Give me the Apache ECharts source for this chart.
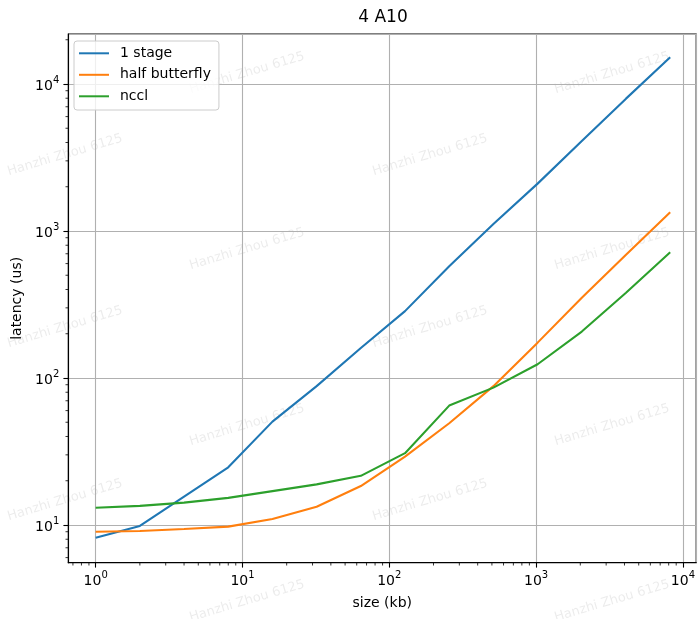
<!DOCTYPE html>
<html>
<head>
<meta charset="utf-8">
<script src="https://cdn.jsdelivr.net/npm/echarts@6/dist/echarts.min.js"></script>
<style>
html,body{margin:0;padding:0;background:#fff;}
#main{width:698px;height:619px;}
</style>
</head>
<body>
<div id="main"></div>
<script>
// ---- data ----
var sizes = [1, 2, 4, 8, 16, 32, 64, 128, 256, 512, 1024, 2048, 4096, 8192];
var oneStage = [8.2, 9.85, 15.6, 24.7, 50.5, 88, 160, 285, 575, 1115, 2100, 4090, 7950, 15200];
var halfButterfly = [9.0, 9.1, 9.4, 9.75, 11.0, 13.3, 18.4, 29.2, 49.2, 88, 174, 352, 690, 1340];
var nccl = [13.1, 13.5, 14.2, 15.3, 17.0, 18.9, 21.6, 30.8, 64.9, 86, 124, 207, 380, 716];
var seriesNames = ['1 stage', 'half butterfly', 'nccl'];
var xMinorTicks = [0.7, 0.8, 0.9, 2, 3, 4, 5, 6, 7, 8, 9, 20, 30, 40, 50, 60, 70, 80, 90,
  200, 300, 400, 500, 600, 700, 800, 900, 2000, 3000, 4000, 5000, 6000, 7000, 8000, 9000];
var yMinorTicks = [6, 7, 8, 9, 20, 30, 40, 50, 60, 70, 80, 90, 200, 300, 400, 500, 600, 700, 800, 900,
  2000, 3000, 4000, 5000, 6000, 7000, 8000, 9000, 20000];
var xMin = 0.651, xMax = 12315;
var yMin = 5.54, yMax = 21880;
var watermark = 'Hanzhi Zhou 6125';
var wmPos = [[65,155],[430,155],[65,327],[430,327],[65,500],[430,500],
             [247,73],[612,73],[247,249],[612,249],[247,425],[612,425],[247,601],[612,601]];

function zip(xs, ys){ return xs.map(function(x,i){ return [x, ys[i]]; }); }
var FONT = '"DejaVu Sans", sans-serif';
function supFmt(v){
  var e = Math.round(Math.log10(v));
  return '{b|10}{s|' + e + '}';
}
var richLab = {
  b: {fontSize: 14, fontFamily: FONT, color: '#000', verticalAlign: 'bottom', lineHeight: 18},
  s: {fontSize: 10, fontFamily: FONT, color: '#000', verticalAlign: 'top', lineHeight: 10}
};

var chart = echarts.init(document.getElementById('main'), null, {renderer: 'canvas'});
var graphics = wmPos.map(function(p){
  return {type: 'text', x: p[0], y: p[1], rotation: 16.5 * Math.PI / 180, z: -10, silent: true,
    style: {text: watermark, fontSize: 13, fontFamily: FONT, fill: 'rgba(0,0,0,0.08)',
      align: 'center', verticalAlign: 'middle'}};
});

var lineStyleW = 2.1;
var option = {
  animation: false,
  backgroundColor: '#fff',
  title: {text: '4 A10', left: 383, top: 9, textAlign: 'center', padding: 0,
    textStyle: {fontSize: 17, fontWeight: 'normal', fontFamily: FONT, color: '#000'}},
  graphic: graphics,
  legend: {
    data: seriesNames, left: 74, top: 41, orient: 'vertical', icon: 'rect',
    itemWidth: 30, itemHeight: 2, itemGap: 7.5,
    padding: [5.3, 8, 6.7, 5],
    backgroundColor: 'rgba(255,255,255,0.8)', borderColor: '#cccccc', borderWidth: 1, borderRadius: 3,
    textStyle: {fontSize: 14, fontFamily: FONT, color: '#000', lineHeight: 14, padding: [0,0,0,6]}
  },
  grid: {left: 68.3, top: 34, right: 1, bottom: 619 - 562.7, containLabel: false,
    show: true, borderColor: '#000', borderWidth: 1.1, backgroundColor: 'transparent'},
  xAxis: {
    type: 'log', logBase: 10, min: xMin, max: xMax,
    name: 'size (kb)', nameLocation: 'middle', nameGap: 34,
    nameTextStyle: {fontSize: 14, fontFamily: FONT, color: '#000'},
    axisLine: {show: true, onZero: false, lineStyle: {color: '#000', width: 1.1}},
    axisTick: {show: true, length: 4.9, lineStyle: {color: '#000', width: 1.1}},
    axisLabel: {show: true, margin: 8, showMinLabel: false, showMaxLabel: false,
      formatter: supFmt, rich: richLab},
    splitLine: {show: true, lineStyle: {color: '#b0b0b0', width: 1.1}},
    minorTick: {show: false}
  },
  yAxis: {
    type: 'log', logBase: 10, min: yMin, max: yMax,
    name: 'latency (us)', nameLocation: 'middle', nameGap: 44,
    nameTextStyle: {fontSize: 14, fontFamily: FONT, color: '#000'},
    axisLine: {show: true, onZero: false, lineStyle: {color: '#000', width: 1.1}},
    axisTick: {show: true, length: 4.9, lineStyle: {color: '#000', width: 1.1}},
    axisLabel: {show: true, margin: 9, showMinLabel: false, showMaxLabel: false,
      formatter: supFmt, rich: richLab},
    splitLine: {show: true, lineStyle: {color: '#b0b0b0', width: 1.1}}
  },
  series: [
    {name: seriesNames[0], type: 'line', data: zip(sizes, oneStage), showSymbol: false, symbol: 'none',
      lineStyle: {color: '#1f77b4', width: lineStyleW}, itemStyle: {color: '#1f77b4'}, z: 3},
    {name: seriesNames[1], type: 'line', data: zip(sizes, halfButterfly), showSymbol: false, symbol: 'none',
      lineStyle: {color: '#ff7f0e', width: lineStyleW}, itemStyle: {color: '#ff7f0e'}, z: 3},
    {name: seriesNames[2], type: 'line', data: zip(sizes, nccl), showSymbol: false, symbol: 'none',
      lineStyle: {color: '#2ca02c', width: lineStyleW}, itemStyle: {color: '#2ca02c'}, z: 3},
    {type: 'custom', name: 'xminor', clip: false, silent: true, z: 5,
      data: xMinorTicks.map(function(v){ return [v, yMin]; }),
      renderItem: function(params, api){
        var p = api.coord([api.value(0), yMin]);
        return {type: 'line', shape: {x1: p[0], y1: p[1], x2: p[0], y2: p[1] + 2.8},
          style: {stroke: '#000', lineWidth: 0.8}};
      }},
    {type: 'custom', name: 'yminor', clip: false, silent: true, z: 5,
      data: yMinorTicks.map(function(v){ return [xMin, v]; }),
      renderItem: function(params, api){
        var p = api.coord([xMin, api.value(1)]);
        return {type: 'line', shape: {x1: p[0], y1: p[1], x2: p[0] - 2.8, y2: p[1]},
          style: {stroke: '#000', lineWidth: 0.8}};
      }}
  ]
};
chart.setOption(option);
</script>
</body>
</html>
